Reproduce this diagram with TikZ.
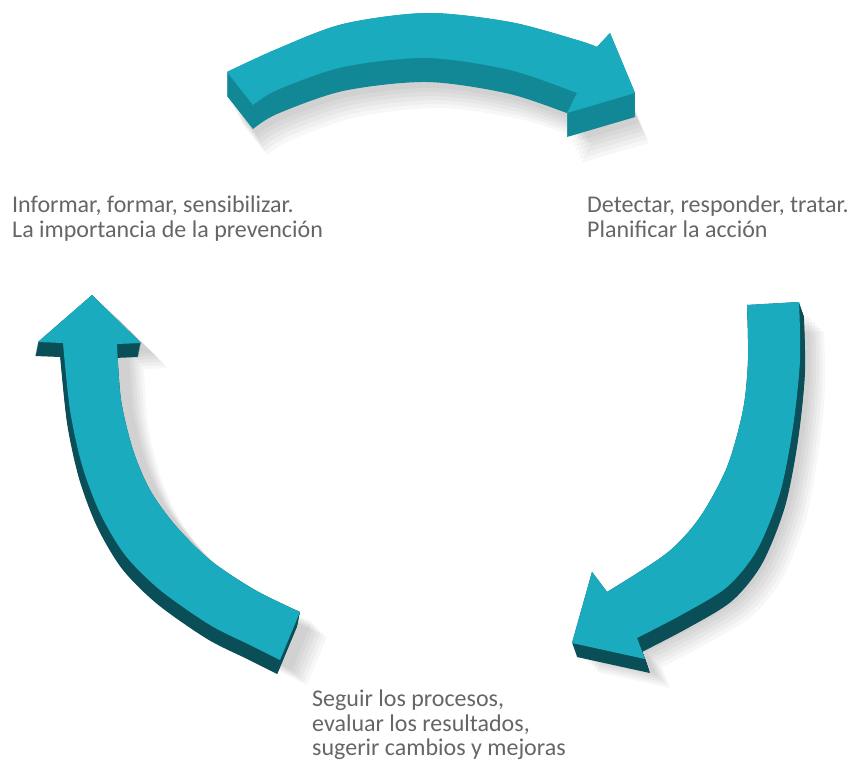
\documentclass[tikz,border=0pt]{standalone}
\usepackage{fontspec}
\setmainfont{Carlito}

\definecolor{tealtop}{RGB}{27,171,190}
\definecolor{tealfront}{RGB}{18,136,150}
\definecolor{tealdark}{RGB}{10,78,88}
\definecolor{labelgray}{RGB}{102,102,102}

% outlines of the three arrows (pixel units, y downwards)
\newcommand\toparrowpath{(227,72) -- plot[smooth] coordinates {(227,72) (277,49) (343,24) (427,13) (510,22) (577,40) (597,47)}
  -- (610,33) -- (635,93) -- (567,113) -- (577,93)
  -- plot[smooth] coordinates {(577,93) (510,70) (427,58) (343,67) (277,90) (253,105)} -- cycle}
\newcommand\rightarrowpath{(747,305) -- (799,302)
  -- plot[smooth] coordinates {(799,302) (800,360) (793,427) (780,493) (757,550) (727,587) (683,614) (637,638)}
  -- (645,659) -- (572,643) -- (592,572) -- (607,592)
  -- plot[smooth] coordinates {(607,592) (667,553) (700,517) (727,467) (743,410) (748,360) (747,305)} -- cycle}
\newcommand\leftarrowpath{(92,295) -- (141,343) -- (117,344)
  -- plot[smooth] coordinates {(117,344) (121,400) (133,450) (150,490) (175,525) (210,560) (255,590) (300,612)}
  -- (280,660)
  -- plot[smooth] coordinates {(280,660) (250,645) (210,625) (160,590) (125,555) (100,513) (82,465) (70,410) (63,343)}
  -- (38,342) -- cycle}

\begin{document}
\begin{tikzpicture}[x=1pt,y=-1pt,
    arrowtop/.style={fill=tealtop},
    haze/.style={fill=black,opacity=0.03},
    lbl/.style={anchor=north west,inner sep=0pt,align=left,text=labelgray,
      font=\fontsize{24}{24.5}\selectfont}]
\useasboundingbox (0,0) rectangle (856,763);
\fill[white] (0,0) rectangle (856,763);

% soft shadows
\foreach \s in {0,...,5} {
  \fill[haze,shift={(4+\s*2,30+\s*4)}] \toparrowpath;
  \fill[haze,shift={(10+\s*3,14+\s*3)}] \rightarrowpath;
  \fill[haze,shift={(12+\s*3,10+\s*3)}] \leftarrowpath;
}

% extruded sides
\foreach \k in {0,...,24}
  \fill[tealfront,shift={(0,\k)}] \toparrowpath;
\foreach \k in {0,...,14}
  \fill[tealdark,shift={(\k*0.35,\k)}] \rightarrowpath;
\foreach \k in {0,...,14}
  \fill[tealdark,shift={(-\k*0.2,\k)}] \leftarrowpath;

% top faces
\fill[arrowtop] \toparrowpath;
\fill[arrowtop] \rightarrowpath;
\fill[arrowtop] \leftarrowpath;

\node[lbl] (informar) at (12,196) {Informar, formar, sensibilizar.\\La importancia de la prevención};
\node[lbl] (detectar) at (587,196) {Detectar, responder, tratar.\\Planificar la acción};
\node[lbl] (seguir) at (312,690) {Seguir los procesos,\\evaluar los resultados,\\sugerir cambios y mejoras};
\end{tikzpicture}
\end{document}
